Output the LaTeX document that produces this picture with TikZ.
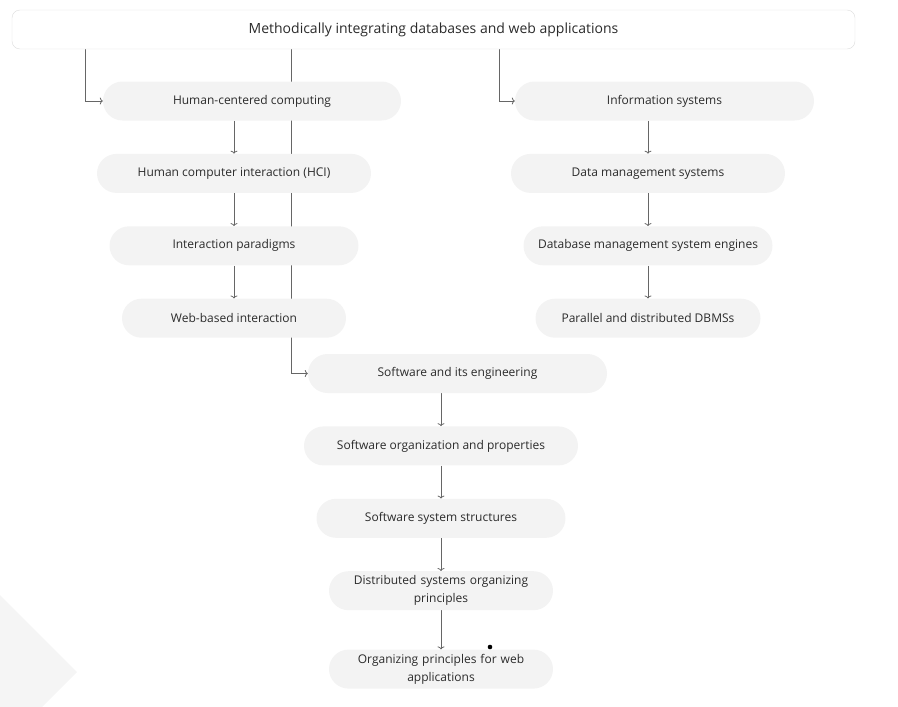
\documentclass[tikz,border=0pt]{standalone}
\usepackage{fontspec}
\setmainfont{Open Sans}
\usetikzlibrary{positioning,arrows.meta,backgrounds}
\definecolor{boxfill}{HTML}{F3F3F3}
\definecolor{boxline}{HTML}{DDDDDD}
\definecolor{linkcol}{HTML}{666666}
\definecolor{textcol}{HTML}{2B2B2B}
\tikzset{
    title box/.style = {
        draw = boxline,
        fill = white,
        rounded corners = 8pt,
        minimum width = 843pt,
        minimum height = 39pt,
        text = textcol,
        font = \fontsize{14}{17}\selectfont,
        },
    topic/.style = {
        fill = boxfill,
        rounded corners = 19.5pt,
        minimum height = 39pt,
        inner sep = 3pt,
        text = textcol,
        align = center,
        font = \fontsize{12}{18}\selectfont,
        },
    link/.style = {
        draw = linkcol,
        line width = 0.8pt,
        -{To[length=3pt,width=7pt]},
        },
    plain link/.style = {
        draw = linkcol,
        line width = 0.8pt,
        },
    node distance = 33pt,
}
\begin{document}
\begin{tikzpicture}
    \useasboundingbox (0,0) rectangle (898pt,-707pt);

    \node[title box] (top) at (433.5pt,-29.5pt) {Methodically integrating databases and web applications};

    % left branch
    \node[topic, minimum width=298pt] (HCC) at (252pt,-101pt) {Human-centered computing};
    \node[topic, minimum width=274pt, below=of HCC, xshift=-18pt] (HCI) {Human computer interaction (HCI)};
    \node[topic, minimum width=249pt, below=of HCI] (IP) {Interaction paradigms};
    \node[topic, minimum width=224pt, below=of IP] (WBI) {Web-based interaction};

    % right branch
    \node[topic, minimum width=299pt] (IS) at (664.5pt,-101pt) {Information systems};
    \node[topic, minimum width=274pt, below=of IS, xshift=-16.5pt] (DMS) {Data management systems};
    \node[topic, minimum width=249pt, below=of DMS] (DBE) {Database management system engines};
    \node[topic, minimum width=225pt, below=of DBE] (PDD) {Parallel and distributed DBMSs};

    % middle branch
    \node[topic, minimum width=299pt] (SE) at (457.5pt,-373.5pt) {Software and its engineering};
    \node[topic, minimum width=274pt, below=of SE, xshift=-16.5pt] (SOP) {Software organization and properties};
    \node[topic, minimum width=249pt, below=of SOP] (SSS) {Software system structures};
    \node[topic, minimum width=224pt, text width=190pt, below=of SSS] (DSP) {Distributed systems organizing\\principles};
    \node[topic, minimum width=224pt, text width=190pt, below=39pt of DSP] (OPW) {Organizing principles for web\\applications};

    \fill (490pt,-647pt) circle (2.3pt);

    \begin{scope}[on background layer]
        \fill[boxfill!80] (0,-595pt) -- (77pt,-672pt) -- (42pt,-707pt) -- (0,-707pt) -- cycle;

        \draw[link] ([xshift=74pt]top.south west) |- (HCC.west);
        \draw[link] ([xshift=280pt]top.south west) |- (SE.west);
        \draw[link] ([xshift=488pt]top.south west) |- (IS.west);

        \draw[link] (HCC.south -| HCI) -- (HCI);
        \draw[link] (HCI) -- (IP);
        \draw[link] (IP) -- (WBI);

        \draw[link] (IS.south -| DMS) -- (DMS);
        \draw[link] (DMS) -- (DBE);
        \draw[link] (DBE) -- (PDD);

        \draw[link] (SE.south -| SOP) -- (SOP);
        \draw[link] (SOP) -- (SSS);
        \draw[link] (SSS) -- (DSP);
        \draw[link] (DSP) -- (OPW);
    \end{scope}
\end{tikzpicture}
\end{document}
